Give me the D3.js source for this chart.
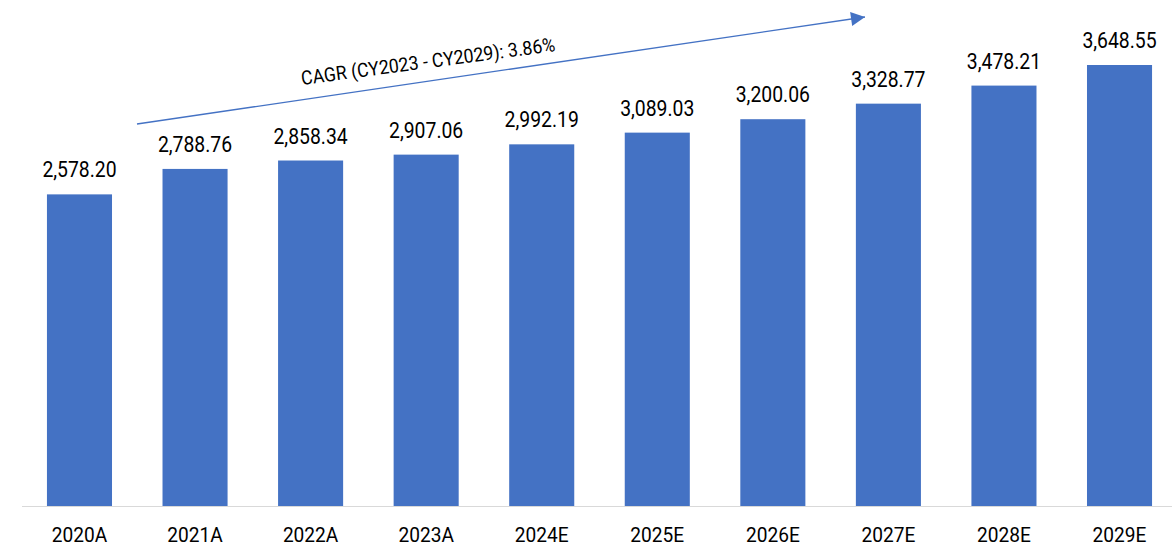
<!DOCTYPE html>
<html lang="en">
<head>
  <meta charset="utf-8" />
  <style>
    body { margin: 0; background: #fff; }
    text { font-family: Roboto, "Noto Sans", sans-serif; fill: #000; }
  </style>
</head>
<body>
  <div id="chart"></div>
  <script src="https://cdnjs.cloudflare.com/ajax/libs/d3/7.8.5/d3.min.js"></script>
  <script>
    const years = ["2020A", "2021A", "2022A", "2023A", "2024E", "2025E", "2026E", "2027E", "2028E", "2029E"];
    const values = [2578.20, 2788.76, 2858.34, 2907.06, 2992.19, 3089.03, 3200.06, 3328.77, 3478.21, 3648.55];
    const cagrLabel = "CAGR (CY2023 - CY2029): 3.86%";

    const width = 1172;
    const height = 547;

    const svg = d3.select("#chart").append("svg")
      .attr("width", width)
      .attr("height", height);

    const x = d3.scaleBand()
      .domain(years)
      .range([21.7, 1177.3])
      .paddingInner(0.437)
      .paddingOuter(0.2185);

    const y = d3.scaleLinear()
      .domain([0, d3.max(values)])
      .range([506, 65]);

    // squeeze Roboto to look like the condensed face of the original
    function condense(sel, f) {
      sel.each(function () {
        const w = this.getComputedTextLength();
        d3.select(this).attr("textLength", w * f).attr("lengthAdjust", "spacingAndGlyphs");
      });
    }

    // baseline
    svg.append("line")
      .attr("x1", 22).attr("x2", width)
      .attr("y1", 506.5).attr("y2", 506.5)
      .attr("stroke", "#d9d9d9")
      .attr("stroke-width", 1);

    svg.selectAll("rect.bar")
      .data(values)
      .join("rect")
      .attr("class", "bar")
      .attr("x", (d, i) => x(years[i]))
      .attr("y", d => y(d))
      .attr("width", x.bandwidth())
      .attr("height", d => y(0) - y(d))
      .attr("fill", "#4472C4");

    svg.selectAll("text.val")
      .data(values)
      .join("text")
      .attr("class", "val")
      .attr("x", (d, i) => x(years[i]) + x.bandwidth() / 2)
      .attr("y", d => y(d) - 17)
      .attr("text-anchor", "middle")
      .attr("font-size", 22)
      .text(d => d3.format(",.2f")(d))
      .call(condense, 0.88);

    svg.selectAll("text.cat")
      .data(years)
      .join("text")
      .attr("class", "cat")
      .attr("x", d => x(d) + x.bandwidth() / 2)
      .attr("y", 541.5)
      .attr("text-anchor", "middle")
      .attr("font-size", 21)
      .text(d => d)
      .call(condense, 0.91);

    // CAGR arrow
    const defs = svg.append("defs");
    defs.append("marker")
      .attr("id", "arrow")
      .attr("viewBox", "0 0 10 10")
      .attr("refX", 10).attr("refY", 5)
      .attr("markerWidth", 15).attr("markerHeight", 14)
      .attr("markerUnits", "userSpaceOnUse")
      .attr("orient", "auto")
      .append("path")
      .attr("d", "M0,0 L10,5 L0,10 Z")
      .attr("fill", "#4472C4");

    svg.append("line")
      .attr("x1", 137).attr("y1", 124)
      .attr("x2", 865).attr("y2", 17)
      .attr("stroke", "#4472C4")
      .attr("stroke-width", 1.3)
      .attr("marker-end", "url(#arrow)");

    svg.append("text")
      .attr("transform", "translate(429,68) rotate(-7.6)")
      .attr("text-anchor", "middle")
      .attr("font-size", 19.5)
      .text(cagrLabel)
      .each(function () {
        const w = this.getComputedTextLength();
        d3.select(this).attr("textLength", Math.min(w, 256)).attr("lengthAdjust", "spacingAndGlyphs");
      });
  </script>
</body>
</html>
